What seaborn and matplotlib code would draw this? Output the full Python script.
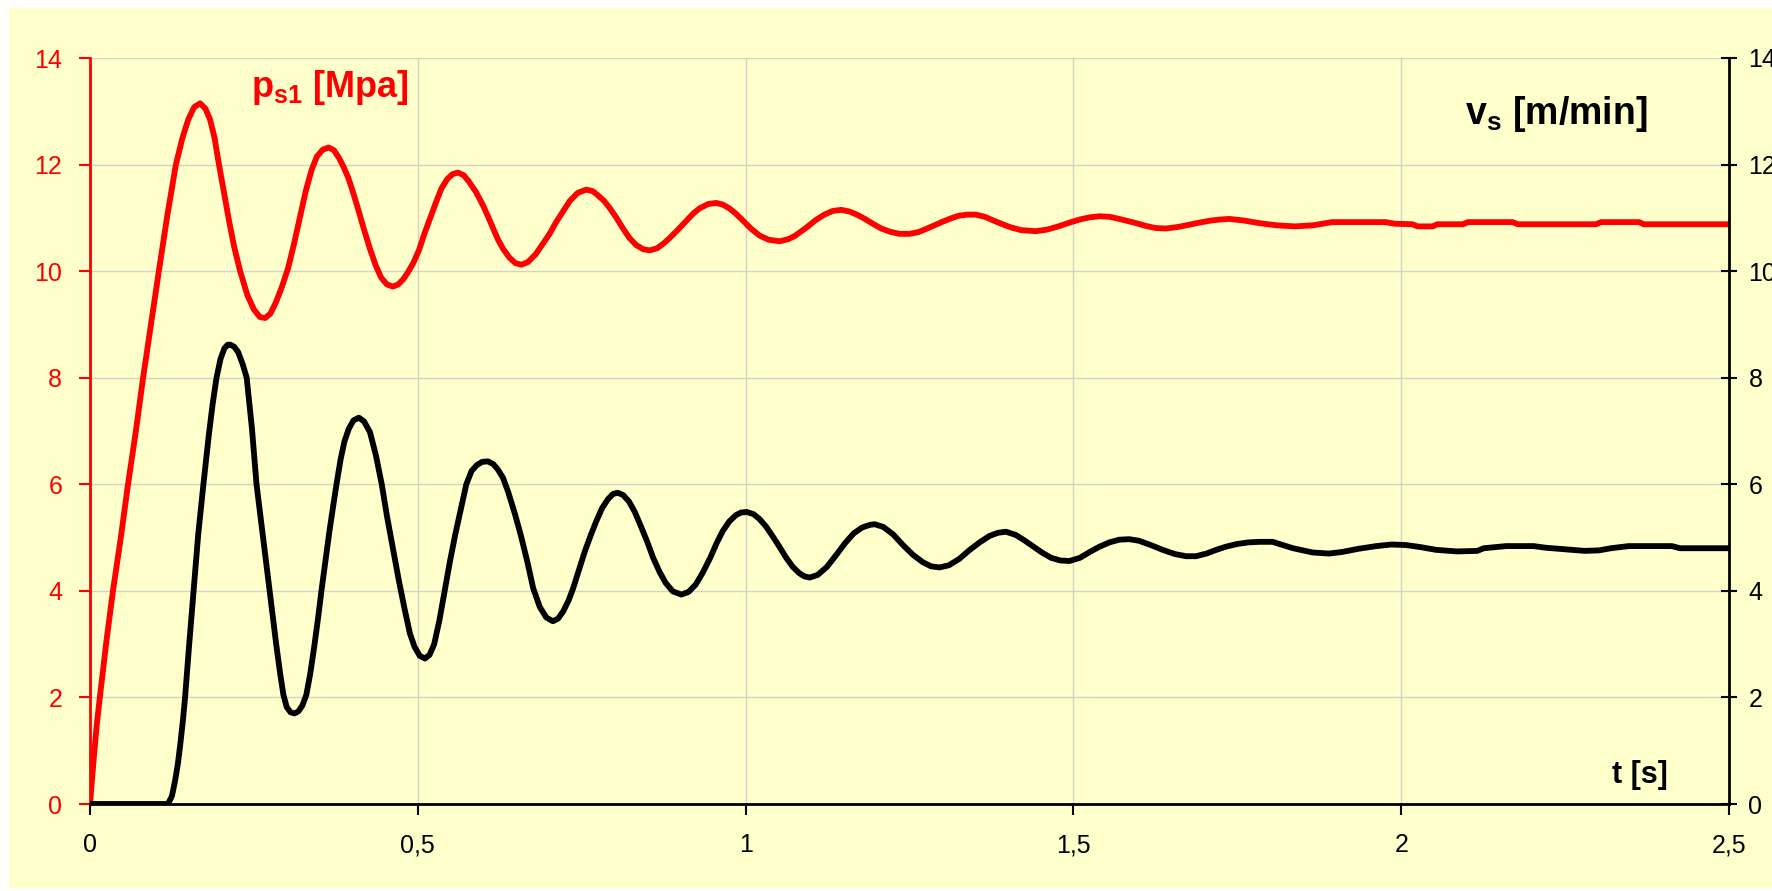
import matplotlib
matplotlib.use("Agg")
import matplotlib.pyplot as plt
from matplotlib.patches import Rectangle
import seaborn as sns

# Pressure p_s1 [MPa] over time
t_p = [0.000, 0.005, 0.010, 0.015, 0.025, 0.035, 0.047, 0.058, 0.070, 0.081,
       0.093, 0.105, 0.118, 0.131, 0.141, 0.150, 0.159, 0.168, 0.176, 0.183,
       0.190, 0.196, 0.204, 0.212, 0.220, 0.229, 0.240, 0.250, 0.259, 0.267,
       0.275, 0.283, 0.292, 0.302, 0.311, 0.320, 0.329, 0.338, 0.346, 0.355,
       0.364, 0.372, 0.380, 0.387, 0.394, 0.402, 0.410, 0.418, 0.427, 0.436,
       0.444, 0.453, 0.462, 0.470, 0.478, 0.485, 0.493, 0.502, 0.510, 0.519,
       0.528, 0.536, 0.545, 0.553, 0.561, 0.570, 0.578, 0.589, 0.600, 0.608,
       0.615, 0.622, 0.630, 0.640, 0.649, 0.658, 0.668, 0.680, 0.690, 0.701,
       0.711, 0.722, 0.732, 0.744, 0.757, 0.767, 0.775, 0.784, 0.793, 0.803,
       0.813, 0.823, 0.833, 0.844, 0.854, 0.865, 0.875, 0.884, 0.897, 0.910,
       0.920, 0.930, 0.943, 0.955, 0.965, 0.975, 0.985, 0.996, 1.008, 1.021,
       1.035, 1.052, 1.065, 1.075, 1.084, 1.093, 1.106, 1.120, 1.133, 1.146,
       1.158, 1.170, 1.182, 1.194, 1.207, 1.220, 1.235, 1.250, 1.263, 1.275,
       1.288, 1.301, 1.313, 1.325, 1.338, 1.351, 1.365, 1.378, 1.392, 1.405,
       1.420, 1.443, 1.460, 1.477, 1.494, 1.510, 1.525, 1.540, 1.555, 1.570,
       1.583, 1.596, 1.610, 1.625, 1.641, 1.660, 1.676, 1.692, 1.710, 1.725,
       1.738, 1.760, 1.784, 1.810, 1.838, 1.865, 1.895, 1.976, 1.990, 2.017,
       2.025, 2.048, 2.055, 2.094, 2.102, 2.170, 2.178, 2.297, 2.305, 2.363,
       2.370, 2.500]
p_s1 = [0.00, 0.75, 1.45, 2.00, 3.05, 4.00, 5.00, 6.00, 7.00, 8.00,
        9.00, 10.00, 11.05, 12.00, 12.50, 12.85, 13.08, 13.15, 13.05, 12.85,
        12.50, 12.05, 11.50, 10.95, 10.45, 10.00, 9.55, 9.28, 9.14, 9.12,
        9.20, 9.40, 9.68, 10.05, 10.50, 11.00, 11.50, 11.90, 12.15, 12.28,
        12.32, 12.27, 12.12, 11.95, 11.75, 11.45, 11.12, 10.78, 10.42, 10.10,
        9.88, 9.75, 9.71, 9.75, 9.85, 9.98, 10.15, 10.40, 10.70, 11.00,
        11.30, 11.55, 11.73, 11.82, 11.85, 11.80, 11.68, 11.48, 11.22, 11.00,
        10.80, 10.60, 10.42, 10.25, 10.15, 10.12, 10.17, 10.32, 10.50, 10.70,
        10.92, 11.13, 11.32, 11.47, 11.53, 11.50, 11.42, 11.32, 11.18, 11.00,
        10.80, 10.62, 10.49, 10.41, 10.39, 10.43, 10.52, 10.62, 10.78, 10.95,
        11.08, 11.18, 11.26, 11.28, 11.25, 11.18, 11.08, 10.95, 10.80, 10.67,
        10.59, 10.56, 10.60, 10.66, 10.74, 10.82, 10.95, 11.06, 11.13, 11.15,
        11.12, 11.06, 10.98, 10.89, 10.80, 10.74, 10.70, 10.70, 10.73, 10.79,
        10.86, 10.93, 10.99, 11.04, 11.06, 11.06, 11.02, 10.95, 10.88, 10.82,
        10.77, 10.75, 10.78, 10.84, 10.91, 10.97, 11.01, 11.03, 11.02, 10.98,
        10.94, 10.90, 10.85, 10.81, 10.80, 10.83, 10.87, 10.91, 10.95, 10.97,
        10.98, 10.95, 10.90, 10.86, 10.84, 10.86, 10.92, 10.92, 10.89, 10.88,
        10.84, 10.84, 10.88, 10.88, 10.92, 10.92, 10.88, 10.88, 10.92, 10.92,
        10.88, 10.88]

# Slide velocity v_s [m/min] over time
t_v = [0.000, 0.119, 0.125, 0.130, 0.134, 0.138, 0.142, 0.145, 0.151, 0.158,
       0.165, 0.173, 0.181, 0.187, 0.193, 0.199, 0.205, 0.210, 0.214, 0.220,
       0.226, 0.233, 0.239, 0.247, 0.254, 0.264, 0.274, 0.284, 0.290, 0.295,
       0.300, 0.306, 0.312, 0.318, 0.324, 0.330, 0.336, 0.342, 0.348, 0.353,
       0.359, 0.365, 0.371, 0.376, 0.382, 0.388, 0.395, 0.402, 0.410, 0.418,
       0.427, 0.436, 0.445, 0.453, 0.462, 0.471, 0.480, 0.488, 0.495, 0.503,
       0.511, 0.518, 0.525, 0.533, 0.541, 0.549, 0.557, 0.566, 0.574, 0.582,
       0.590, 0.598, 0.607, 0.615, 0.622, 0.630, 0.638, 0.648, 0.657, 0.667,
       0.676, 0.686, 0.696, 0.706, 0.714, 0.722, 0.730, 0.737, 0.746, 0.755,
       0.764, 0.772, 0.781, 0.790, 0.798, 0.805, 0.813, 0.822, 0.831, 0.840,
       0.850, 0.859, 0.869, 0.878, 0.889, 0.902, 0.913, 0.924, 0.935, 0.946,
       0.956, 0.965, 0.975, 0.985, 0.993, 1.002, 1.012, 1.021, 1.031, 1.041,
       1.052, 1.062, 1.072, 1.082, 1.090, 1.098, 1.110, 1.124, 1.138, 1.152,
       1.165, 1.178, 1.190, 1.197, 1.210, 1.225, 1.240, 1.255, 1.270, 1.283,
       1.296, 1.310, 1.326, 1.341, 1.357, 1.372, 1.385, 1.397, 1.412, 1.425,
       1.438, 1.452, 1.466, 1.480, 1.494, 1.510, 1.525, 1.540, 1.555, 1.570,
       1.585, 1.600, 1.618, 1.636, 1.655, 1.672, 1.687, 1.703, 1.718, 1.733,
       1.750, 1.767, 1.784, 1.804, 1.814, 1.835, 1.865, 1.890, 1.910, 1.935,
       1.962, 1.985, 2.007, 2.030, 2.053, 2.085, 2.116, 2.126, 2.160, 2.202,
       2.220, 2.250, 2.280, 2.302, 2.320, 2.347, 2.413, 2.425, 2.500]
v_s = [0.00, 0.00, 0.15, 0.45, 0.75, 1.15, 1.60, 2.00, 2.95, 4.00,
       5.05, 6.00, 6.90, 7.50, 8.00, 8.35, 8.55, 8.62, 8.62, 8.58,
       8.48, 8.25, 8.00, 7.05, 6.00, 5.00, 4.00, 3.00, 2.45, 2.05,
       1.82, 1.72, 1.70, 1.74, 1.85, 2.05, 2.45, 2.95, 3.50, 4.00,
       4.55, 5.10, 5.60, 6.00, 6.45, 6.80, 7.05, 7.20, 7.25, 7.18,
       6.98, 6.55, 6.00, 5.40, 4.80, 4.20, 3.65, 3.20, 2.95, 2.78,
       2.73, 2.80, 3.00, 3.45, 4.00, 4.55, 5.05, 5.55, 6.00, 6.25,
       6.36, 6.42, 6.43, 6.38, 6.28, 6.12, 5.85, 5.45, 5.05, 4.55,
       4.05, 3.70, 3.50, 3.43, 3.48, 3.62, 3.82, 4.05, 4.40, 4.75,
       5.05, 5.30, 5.55, 5.72, 5.82, 5.84, 5.80, 5.68, 5.48, 5.22,
       4.92, 4.62, 4.35, 4.15, 3.99, 3.93, 3.98, 4.12, 4.35, 4.62,
       4.90, 5.12, 5.30, 5.42, 5.47, 5.48, 5.44, 5.35, 5.21, 5.03,
       4.82, 4.62, 4.45, 4.33, 4.27, 4.25, 4.30, 4.45, 4.67, 4.90,
       5.08, 5.19, 5.24, 5.25, 5.20, 5.06, 4.86, 4.68, 4.54, 4.46,
       4.44, 4.48, 4.60, 4.76, 4.91, 5.03, 5.09, 5.11, 5.05, 4.95,
       4.84, 4.72, 4.62, 4.57, 4.56, 4.62, 4.73, 4.83, 4.91, 4.96,
       4.97, 4.94, 4.86, 4.77, 4.69, 4.65, 4.65, 4.70, 4.77, 4.83,
       4.88, 4.91, 4.92, 4.92, 4.88, 4.80, 4.72, 4.70, 4.73, 4.79,
       4.84, 4.87, 4.86, 4.82, 4.77, 4.74, 4.75, 4.80, 4.84, 4.84,
       4.81, 4.78, 4.75, 4.76, 4.80, 4.84, 4.84, 4.80, 4.80]

x_ticks = [0, 0.5, 1, 1.5, 2, 2.5]
x_tick_labels = ["0", "0,5", "1", "1,5", "2", "2,5"]
y_ticks = [0, 2, 4, 6, 8, 10, 12, 14]

sns.set_theme(style="white")
plt.rcParams["font.family"] = ["Liberation Sans", "DejaVu Sans"]
plt.rcParams["mathtext.fontset"] = "custom"
plt.rcParams["mathtext.rm"] = "Liberation Sans"
plt.rcParams["mathtext.bf"] = "Liberation Sans:bold"

W, H = 1772, 891
BG = "#FFFFCC"
GRID = "#D2D2C6"

fig = plt.figure(figsize=(W / 100, H / 100), dpi=100)
fig.patch.set_facecolor("white")
fig.patches.append(Rectangle((9 / W, 3 / H), 1, 880 / H, transform=fig.transFigure,
                             facecolor=BG, edgecolor="none", zorder=-10))

ax = fig.add_axes([90 / W, 1 - 804 / H, (1729 - 90) / W, (804 - 58) / H])
ax.set_facecolor("none")
ax2 = ax.twinx()

sns.lineplot(x=t_p, y=p_s1, ax=ax, color="#FF0000", linewidth=4.2, estimator=None, sort=False)
sns.lineplot(x=t_v, y=v_s, ax=ax2, color="#000000", linewidth=4.2, estimator=None, sort=False)

for a in (ax, ax2):
    a.set_xlim(0, 2.5)
    a.set_ylim(0, 14)
    a.set_yticks(y_ticks)
    a.set_xlabel("")
    a.set_ylabel("")

ax.set_xticks(x_ticks)
ax.set_xticklabels(x_tick_labels)
ax.set_yticklabels([str(v) for v in y_ticks])
ax2.set_yticklabels([str(v) for v in y_ticks])

ax.grid(True, color=GRID, linewidth=1.0)
ax.set_axisbelow(True)
ax2.grid(False)

for s in ("top", "right"):
    ax.spines[s].set_visible(False)
for s in ("top", "left", "bottom"):
    ax2.spines[s].set_visible(False)
ax.spines["left"].set_color("#FF0000")
ax.spines["left"].set_linewidth(2)
ax.spines["bottom"].set_color("black")
ax.spines["bottom"].set_linewidth(2)
ax2.spines["right"].set_color("black")
ax2.spines["right"].set_linewidth(2)

ax.tick_params(axis="y", colors="#FF0000", labelcolor="#FF0000", direction="out",
               length=8, width=1.5, labelsize=18, pad=12, left=True)
ax.tick_params(axis="x", colors="black", direction="out", length=8, width=1.5,
               labelsize=18, pad=13, bottom=True)
ax2.tick_params(axis="y", colors="black", direction="inout", length=12, width=1.5,
                labelsize=18, pad=8, right=True)

ax.text(0.245, 13.45, r"$\mathbf{p}_{\mathbf{s1}}$ [Mpa]", color="#FF0000",
        fontsize=26, fontweight="bold", va="center", ha="left")
ax.text(2.097, 12.95, r"$\mathbf{v}_{\mathbf{s}}$ [m/min]", color="black",
        fontsize=27, fontweight="bold", va="center", ha="left")
ax.text(2.322, 0.55, "t [s]", color="black", fontsize=22, fontweight="bold",
        va="center", ha="left")

fig.savefig("out.png", dpi=100, facecolor=fig.get_facecolor())
